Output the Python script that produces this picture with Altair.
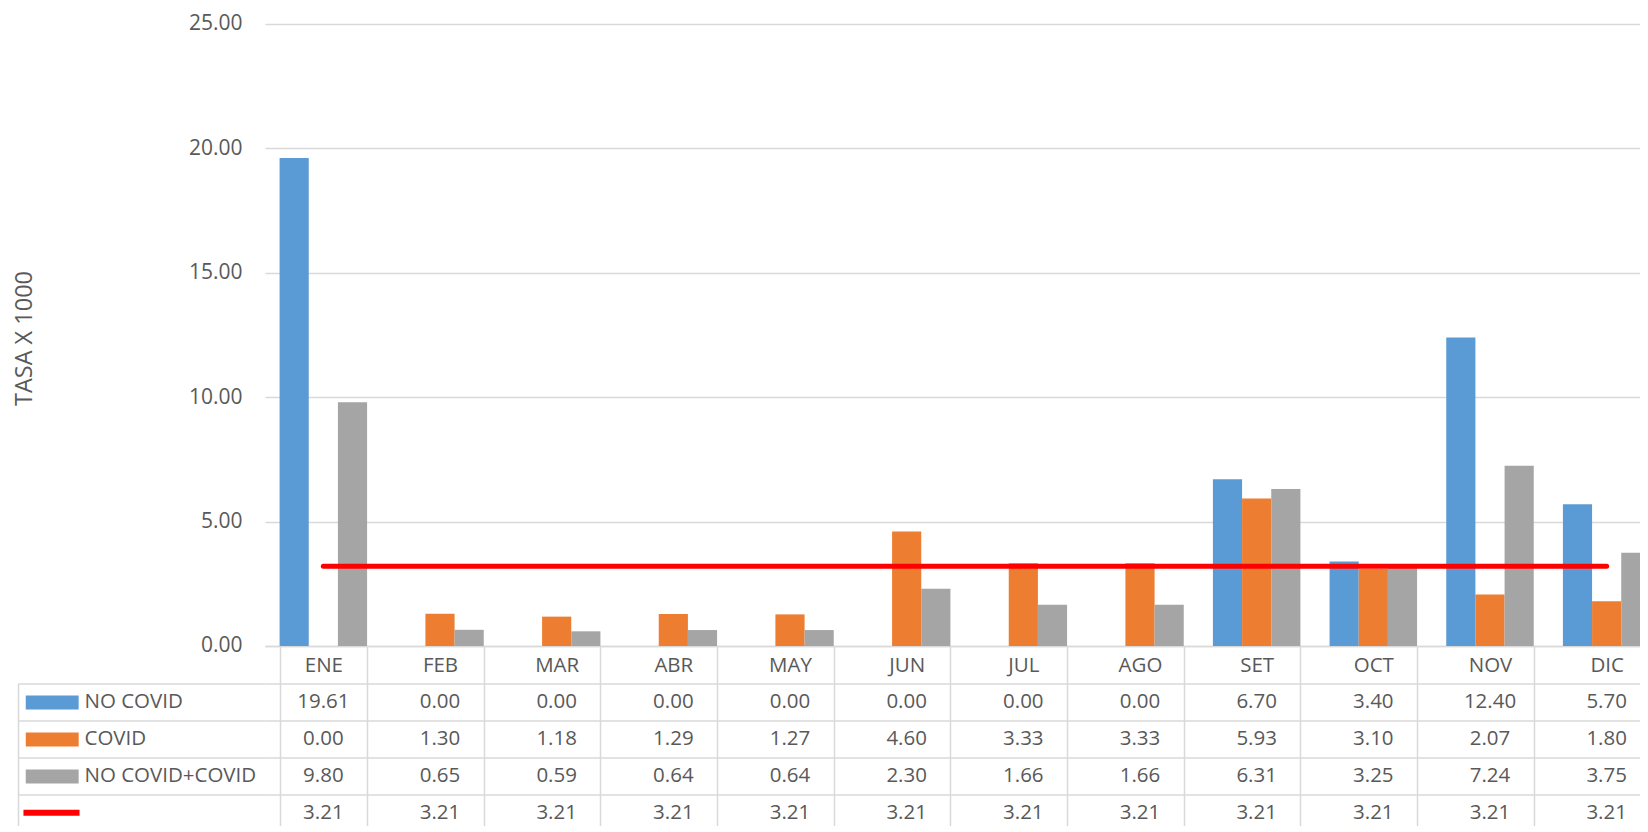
import altair as alt
import pandas as pd

# ---------------- data ----------------
months = ["ENE", "FEB", "MAR", "ABR", "MAY", "JUN", "JUL", "AGO", "SET", "OCT", "NOV", "DIC"]
series = ["NO COVID", "COVID", "NO COVID+COVID"]
no_covid = [19.61, 0.00, 0.00, 0.00, 0.00, 0.00, 0.00, 0.00, 6.70, 3.40, 12.40, 5.70]
covid = [0.00, 1.30, 1.18, 1.29, 1.27, 4.60, 3.33, 3.33, 5.93, 3.10, 2.07, 1.80]
no_covid_covid = [9.80, 0.65, 0.59, 0.64, 0.64, 2.30, 1.66, 1.66, 6.31, 3.25, 7.24, 3.75]
line_name = "PROMEDIO"
promedio = [3.21, 3.21, 3.21, 3.21, 3.21, 3.21, 3.21, 3.21, 3.21, 3.21, 3.21, 3.21]
y_ticks = [0, 5, 10, 15, 20, 25]
y_title = "TASA X 1000"

series_colors = ["#5B9BD5", "#ED7D31", "#A5A5A5"]
line_color = "#FF0000"

# ---------------- tables for the library ----------------
bars_df = pd.DataFrame(
    [{"mes": m, "serie": s, "valor": v}
     for s, vals in zip(series, [no_covid, covid, no_covid_covid])
     for m, v in zip(months, vals)]
)
line_df = pd.DataFrame({"mes": months, "linea": line_name, "valor": promedio})
rows = series + [line_name]
table_df = pd.DataFrame(
    [{"mes": m, "fila": r, "valor": v}
     for r, vals in zip(rows, [no_covid, covid, no_covid_covid, promedio])
     for m, v in zip(months, vals)]
)

# ---------------- style ----------------
FONT = "Open Sans"
TXT = "#595959"
GRID = "#D9D9D9"
W = 1400          # 12 columns of ~116.7 px
H = 622           # plot height
HDR = 37.4        # header row (month names)
ROW = 37.0        # table row height
LEFT = 247        # width of the legend column of the table
FS = 20.5

x_scale = alt.Scale(type="band", domain=months, paddingInner=0.25, paddingOuter=0.125)

bars = alt.Chart(bars_df).mark_bar().encode(
    x=alt.X("mes:N", scale=x_scale,
            axis=alt.Axis(title=None, orient="bottom", labelAngle=0,
                          domain=True, domainColor=GRID, domainWidth=1.5,
                          ticks=True, tickSize=HDR, tickColor=GRID, tickWidth=1.5,
                          tickBand="extent", grid=False,
                          labelFont=FONT, labelFontSize=FS, labelColor=TXT,
                          labelBaseline="middle", labelPadding=20 - HDR)),
    xOffset=alt.XOffset("serie:N",
                        scale=alt.Scale(domain=series, paddingInner=0, paddingOuter=0)),
    y=alt.Y("valor:Q", scale=alt.Scale(domain=[0, 25], nice=False),
            axis=alt.Axis(title=y_title, values=y_ticks, format=".2f",
                          domain=False, ticks=False, grid=True,
                          gridColor=GRID, gridWidth=1.5,
                          labelFont=FONT, labelFontSize=21, labelColor=TXT,
                          labelPadding=23,
                          titleFont=FONT, titleFontSize=23.5, titleFontWeight="normal",
                          titleColor=TXT, titleX=-240.3, titleY=314,
                          titleBaseline="middle", titleAngle=270)),
    fill=alt.Fill("serie:N", scale=alt.Scale(domain=series, range=series_colors),
                  legend=alt.Legend(title=None, orient="none", direction="vertical",
                                    legendX=-226.3, legendY=665.0, padding=0,
                                    symbolType="M-2,-0.53H2V0.53H-2Z",
                                    symbolSize=700, symbolStrokeWidth=0,
                                    symbolOpacity=1, rowPadding=16.0,
                                    labelExpr="''", labelFontSize=10)),
)

line = alt.Chart(line_df).mark_line(strokeWidth=5, strokeCap="round").encode(
    x=alt.X("mes:N", scale=x_scale, title=None),
    y=alt.Y("valor:Q", title=y_title),
    stroke=alt.Stroke("linea:N", scale=alt.Scale(domain=[line_name], range=[line_color]),
                      legend=alt.Legend(title=None, orient="none", direction="vertical",
                                        legendX=-230, legendY=772.2, padding=0,
                                        symbolType="M-2.12,0H2.12", symbolSize=700,
                                        symbolStrokeWidth=6, labelExpr="''",
                                        labelFontSize=6)),
)

top = alt.layer(bars, line).properties(width=W, height=H)

table = alt.Chart(table_df).mark_text(font=FONT, fontSize=FS, color=TXT,
                                      baseline="middle").encode(
    x=alt.X("mes:N", scale=x_scale,
            axis=alt.Axis(title=None, orient="top", labels=False, ticks=False,
                          domain=False, grid=True, gridColor=GRID, gridWidth=1.5,
                          tickBand="extent")),
    y=alt.Y("fila:N", scale=alt.Scale(type="band", domain=rows, paddingInner=0, paddingOuter=0),
            axis=alt.Axis(title=None, orient="right", offset=-(W + LEFT),
                          domain=True, domainColor=GRID, domainWidth=1.5,
                          ticks=True, tickSize=LEFT, tickColor=GRID, tickWidth=1.5,
                          tickBand="extent", grid=True, gridColor=GRID, gridWidth=1.5,
                          labelFont=FONT, labelFontSize=FS, labelColor=TXT,
                          labelAlign="left", labelPadding=66 - LEFT,
                          labelExpr=f"datum.value == '{line_name}' ? '' : datum.value")),
    text=alt.Text("valor:Q", format=".2f"),
).properties(width=W, height=4 * ROW)

# negative right/bottom padding crops the chart at the window edge, as in the reference
chart = alt.vconcat(top, table, spacing=HDR, bounds="flush").properties(
    padding={"left": 4, "top": 5, "right": -25, "bottom": -7.4},
    background="white",
).configure_view(stroke=None)

chart.save("out.html", embed_options={"renderer": "svg", "actions": False})
